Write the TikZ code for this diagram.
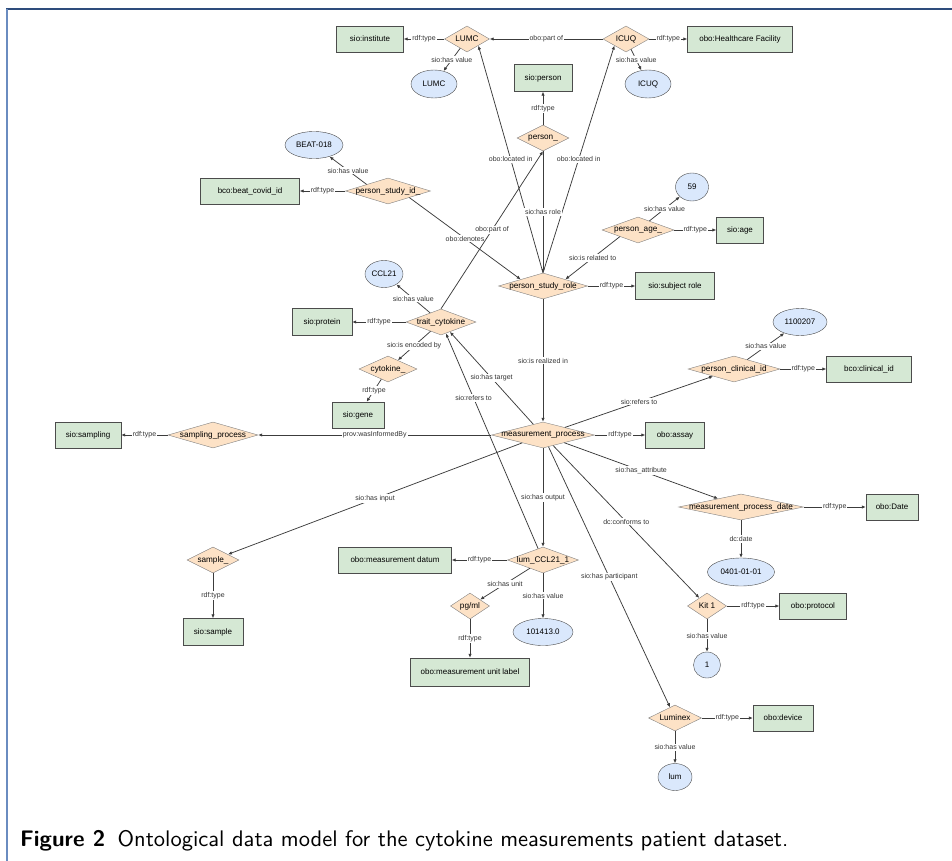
\documentclass[tikz,border=0pt]{standalone}
\usepackage{fontspec}
\setmainfont{Liberation Sans}
\newfontfamily\capfont{lmsans10-regular.otf}[BoldFont=lmsans10-bold.otf]
\usetikzlibrary{shapes.geometric}
\usetikzlibrary{arrows.meta}

\definecolor{clsgreen}{HTML}{D5E8D4}
\definecolor{indorange}{HTML}{FDE2C6}
\definecolor{litblue}{HTML}{DAE8FC}
\definecolor{edgegray}{HTML}{3C3C3C}
\definecolor{frametop}{HTML}{2E4C7C}
\definecolor{frameleft}{HTML}{6A8CC0}

\begin{document}
\begin{tikzpicture}[x=1pt,y=-1pt,
		cls/.style={draw=black!70,fill=clsgreen,minimum height=26,inner sep=0,font=\fontsize{8}{9}\selectfont},
		ind/.style={diamond,draw=black!50,fill=indorange,minimum height=26,inner sep=0,
			label={[inner sep=0,font=\fontsize{8.2}{9}\selectfont]center:#1}},
		lit/.style={ellipse,draw=black!70,fill=litblue,minimum height=27,inner sep=0,font=\fontsize{8}{9}\selectfont},
		rel/.style={draw=edgegray,line width=0.75,-{Latex[length=4pt,width=3.4pt]}},
		lbl/.style={fill=white,inner sep=1,font=\fontsize{7}{8}\selectfont,text=black!80}]
%		\draw[very thin,densely dashed] (0,0) grid[step=50] (952,861);
		\useasboundingbox (0,0) rectangle (952,861);
		\draw[frametop,line width=1.5] (6,9)--(952,9);
		\draw[frameleft,line width=2] (6.5,9)--(6.5,861);
		% classes
		\node[cls,minimum width=67] (inst) at (370,39) {sio:institute};
		\node[cls,minimum width=105] (hcf) at (740,39) {obo:Healthcare Facility};
		\node[cls,minimum width=58,minimum height=27] (sperson) at (543,78) {sio:person};
		\node[cls,minimum width=99] (bcid) at (250,191) {bco:beat\_covid\_id};
		\node[cls,minimum width=79,minimum height=27] (subrole) at (675,286) {sio:subject role};
		\node[cls,minimum width=47] (sage) at (740,230) {sio:age};
		\node[cls,minimum width=60,minimum height=27] (prot) at (322,322) {sio:protein};
		\node[cls,minimum width=52] (gene) at (358,415) {sio:gene};
		\node[cls,minimum width=66] (samp) at (88,435) {sio:sampling};
		\node[cls,minimum width=59] (assay) at (675,435) {obo:assay};
		\node[cls,minimum width=85] (clinid) at (869,369) {bco:clinical\_id};
		\node[cls,minimum width=52] (date) at (892,507) {obo:Date};
		\node[cls,minimum width=60,minimum height=27] (ssample) at (213,632) {sio:sample};
		\node[cls,minimum width=113] (mdatum) at (395,560) {obo:measurement datum};
		\node[cls,minimum width=119,minimum height=28] (unit) at (470,672) {obo:measurement unit label};
		\node[cls,minimum width=67] (proto) at (813,606) {obo:protocol};
		\node[cls,minimum width=60] (device) at (783,718) {obo:device};
		% individuals
		\node[ind=LUMC,minimum width=45] (lumc) at (467,39) {};
		\node[ind=ICUQ,minimum width=46] (icuq) at (626,39) {};
		\node[ind=person\_,minimum width=52] (person) at (543,138) {};
		\node[ind=person\_study\_id\_,minimum width=85] (psid) at (388,191) {};
		\node[ind=person\_study\_role,minimum width=89] (psr) at (543,286) {};
		\node[ind=person\_age\_,minimum width=72] (age) at (638,230) {};
		\node[ind=trait\_cytokine,minimum width=70] (tc) at (441,322) {};
		\node[ind=cytokine\_,minimum width=58] (cyt) at (388,369) {};
		\node[ind=measurement\_process,minimum width=103] (mp) at (543,435) {};
		\node[ind=sampling\_process,minimum width=90] (sp) at (213,435) {};
		\node[ind=person\_clinical\_id,minimum width=92] (pcid) at (734,369) {};
		\node[ind=measurement\_process\_date,minimum width=125] (mpd) at (741,507) {};
		\node[ind=sample\_,minimum width=52] (sample) at (213,560) {};
		\node[ind=lum\_CCL21\_1,minimum width=71] (lum) at (543,560) {};
		\node[ind=pg/ml,minimum width=39] (pgml) at (470,606) {};
		\node[ind=Kit 1,minimum width=39] (kit) at (707,606) {};
		\node[ind=Luminex,minimum width=53] (luminex) at (675,718) {};
		% literals
		\node[lit,minimum width=46,minimum height=28] (lumcv) at (434,84) {LUMC};
		\node[lit,minimum width=46,minimum height=28] (icuqv) at (648,84) {ICUQ};
		\node[lit,minimum width=58] (beat) at (314,145) {BEAT-018};
		\node[lit,minimum width=33,minimum height=28] (v59) at (692,187) {59};
		\node[lit,minimum width=38] (ccl) at (384,274) {CCL21};
		\node[lit,minimum width=54] (v1100207) at (800,322) {1100207};
		\node[lit,minimum width=67,minimum height=28] (vdate) at (741,572) {0401-01-01};
		\node[lit,minimum width=60] (v101413) at (543,632) {101413.0};
		\node[lit,minimum width=27,minimum height=26] (vone) at (707,665) {1};
		\node[lit,minimum width=34] (vlum) at (675,777) {lum};

		\draw[rel] (lumc) -- node[lbl]{rdf:type} (inst);
		\draw[rel] (lumc) -- node[lbl]{sio:has value} (lumcv);
		\draw[rel] (icuq) -- node[lbl]{obo:part of} (lumc);
		\draw[rel] (icuq) -- node[lbl]{rdf:type} (hcf);
		\draw[rel] (icuq) -- node[lbl]{sio:has value} (icuqv);
		\draw[rel] (person) -- node[lbl]{rdf:type} (sperson);
		\draw[rel] (psr.north) -- node[lbl]{obo:located in} (lumc.south east);
		\draw[rel] (psr.north) -- node[lbl]{obo:located in} (icuq.south west);
		\draw[rel] (person) -- node[lbl]{sio:has role} (psr);
		\draw[rel] (psid.south east) -- node[lbl]{obo:denotes} (psr.north west);
		\draw[rel] (tc.north) -- node[lbl]{obo:part of} (person.south);
		\draw[rel] (psid) -- node[lbl]{rdf:type} (bcid);
		\draw[rel] (psid.north west) -- node[lbl]{sio:has value} (beat);
		\draw[rel] (age.south west) -- node[lbl]{sio:is related to} (psr.north east);
		\draw[rel] (age) -- node[lbl]{sio:has value} (v59);
		\draw[rel] (age) -- node[lbl]{rdf:type} (sage);
		\draw[rel] (psr) -- node[lbl]{rdf:type} (subrole);
		\draw[rel] (tc) -- node[lbl]{sio:has value} (ccl);
		\draw[rel] (tc) -- node[lbl]{rdf:type} (prot);
		\draw[rel] (tc) -- node[lbl]{sio:is encoded by} (cyt);
		\draw[rel] (cyt) -- node[lbl]{rdf:type} (gene);
		\draw[rel] (psr) -- node[lbl]{sio:is realized in} (mp);
		\draw[rel] (mp) -- node[lbl]{sio:has target} (tc);
		\draw[rel] (lum) -- node[lbl,pos=0.7]{sio:refers to} (tc);
		\draw[rel] (mp) -- node[lbl]{prov:wasInformedBy} (sp);
		\draw[rel] (sp) -- node[lbl]{rdf:type} (samp);
		\draw[rel] (mp) -- node[lbl]{rdf:type} (assay);
		\draw[rel] (mp) -- node[lbl]{sio:refers to} (pcid);
		\draw[rel] (pcid) -- node[lbl]{sio:has value} (v1100207);
		\draw[rel] (pcid) -- node[lbl]{rdf:type} (clinid);
		\draw[rel] (mp) -- node[lbl]{sio:has\_attribute} (mpd);
		\draw[rel] (mpd) -- node[lbl]{rdf:type} (date);
		\draw[rel] (mpd) -- node[lbl]{dc:date} (vdate);
		\draw[rel] (mp) -- node[lbl]{dc:conforms to} (kit);
		\draw[rel] (kit) -- node[lbl]{rdf:type} (proto);
		\draw[rel] (kit) -- node[lbl]{sio:has value} (vone);
		\draw[rel] (mp) -- node[lbl]{sio:has participant} (luminex);
		\draw[rel] (luminex) -- node[lbl]{rdf:type} (device);
		\draw[rel] (luminex) -- node[lbl]{sio:has value} (vlum);
		\draw[rel] (mp) -- node[lbl]{sio:has input} (sample);
		\draw[rel] (sample) -- node[lbl]{rdf:type} (ssample);
		\draw[rel] (mp) -- node[lbl]{sio:has output} (lum);
		\draw[rel] (lum) -- node[lbl]{rdf:type} (mdatum);
		\draw[rel] (lum) -- node[lbl]{sio:has unit} (pgml);
		\draw[rel] (lum) -- node[lbl]{sio:has value} (v101413);
		\draw[rel] (pgml) -- node[lbl]{rdf:type} (unit);

		\node[anchor=base west,inner sep=0,font=\capfont\fontsize{22.5}{26}\selectfont] (caption) at (20,846)
		{\textbf{Figure 2}\hspace{0.55em}Ontological data model for the cytokine measurements patient dataset.};
	\end{tikzpicture}
\end{document}
